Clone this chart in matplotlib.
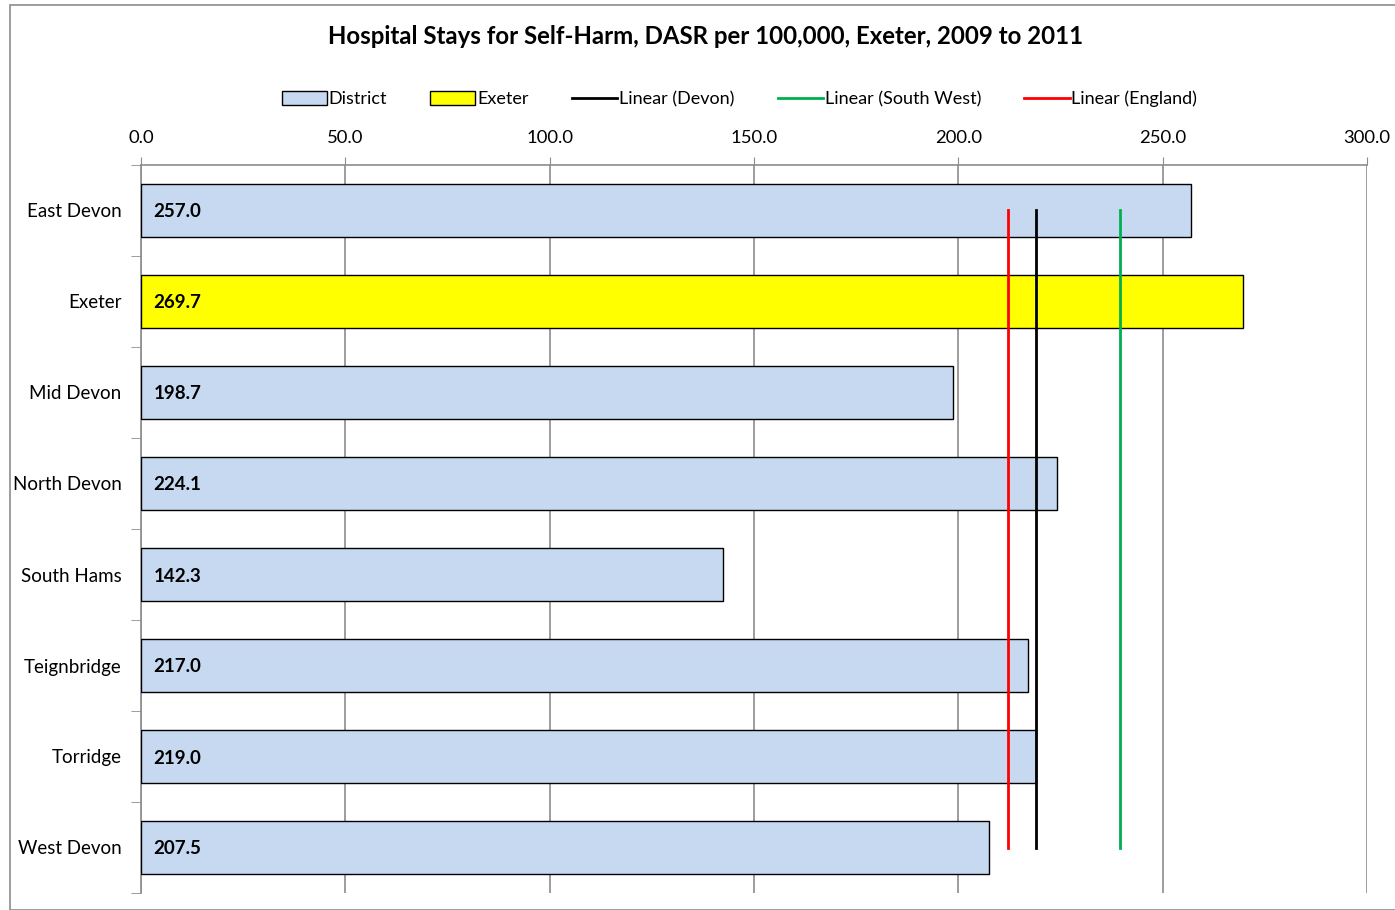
import matplotlib
matplotlib.use("Agg")
import matplotlib.pyplot as plt
from matplotlib.patches import Rectangle, Patch
from matplotlib.lines import Line2D
import numpy as np

districts = ["East Devon", "Exeter", "Mid Devon", "North Devon",
             "South Hams", "Teignbridge", "Torridge", "West Devon"]
values = [257.0, 269.7, 198.7, 224.1, 142.3, 217.0, 219.0, 207.5]
highlight = "Exeter"

devon = 219.0
south_west = 239.5
england = 212.1

xticks = [0, 50, 100, 150, 200, 250, 300]

plt.rcParams['font.family'] = ['Lato', 'DejaVu Sans']

fig = plt.figure(figsize=(13.95, 9.10), dpi=100)
ax = fig.add_axes([141 / 1395, 1 - 893 / 910, 1226 / 1395, 728 / 910])

# outer chart border
fig.patches.append(Rectangle((10 / 1395, 0), 1.0, 1 - 5 / 910, transform=fig.transFigure,
                             fill=False, edgecolor="#8c8c8c", linewidth=1.2))

y = np.arange(len(districts))
colors = ["#ffff00" if d == highlight else "#c6d9f0" for d in districts]
ax.barh(y, values, height=0.58, color=colors, edgecolor="black", linewidth=1.0, zorder=3)

for yi, v in zip(y, values):
    ax.text(3, yi, f"{v:.1f}", va="center_baseline", ha="left", fontsize=13.5,
            fontweight="bold", zorder=4)

# reference lines from first to last category centre
ax.plot([england, england], [y[0], y[-1]], color="#ff0000", lw=2, zorder=5)
ax.plot([devon, devon], [y[0], y[-1]], color="black", lw=2, zorder=5)
ax.plot([south_west, south_west], [y[0], y[-1]], color="#00b050", lw=2, zorder=5)

ax.set_xlim(0, 300)
ax.set_ylim(len(districts) - 0.5, -0.5)
ax.xaxis.tick_top()
ax.set_xticks(xticks)
ax.set_xticklabels([f"{t:.1f}" for t in xticks], fontsize=13.3)
ax.tick_params(axis="x", length=6, color="#8c8c8c", pad=8)
ax.grid(axis="x", color="#8c8c8c", lw=1.2, zorder=0)

ax.set_yticks(y)
ax.set_yticklabels(districts, fontsize=13.5)
ax.set_yticks(np.arange(-0.5, len(districts)), minor=True)
ax.tick_params(axis="y", which="major", length=0, pad=14)
ax.tick_params(axis="y", which="minor", length=7, color="#8c8c8c")

for s in ["right", "bottom"]:
    ax.spines[s].set_visible(False)
ax.spines["top"].set_color("#8c8c8c")
ax.spines["left"].set_color("#8c8c8c")
ax.spines["top"].set_linewidth(1.2)
ax.spines["left"].set_linewidth(1.2)

fig.text(0.506, 1 - 37 / 910, "Hospital Stays for Self-Harm, DASR per 100,000, Exeter, 2009 to 2011",
         ha="center", va="center", fontsize=17.3, fontweight="bold")

handles = [Patch(facecolor="#c6d9f0", edgecolor="black", label="District"),
           Patch(facecolor="#ffff00", edgecolor="black", label="Exeter"),
           Line2D([], [], color="black", lw=2, label="Linear (Devon)"),
           Line2D([], [], color="#00b050", lw=2, label="Linear (South West)"),
           Line2D([], [], color="#ff0000", lw=2, label="Linear (England)")]
fig.legend(handles=handles, loc="center", bbox_to_anchor=(0.53, 1 - 99 / 910), ncol=5,
           frameon=False, fontsize=13, handlelength=2.5, handletextpad=0.1,
           columnspacing=2.4, handleheight=0.8)

fig.savefig("out.png", dpi=100)
